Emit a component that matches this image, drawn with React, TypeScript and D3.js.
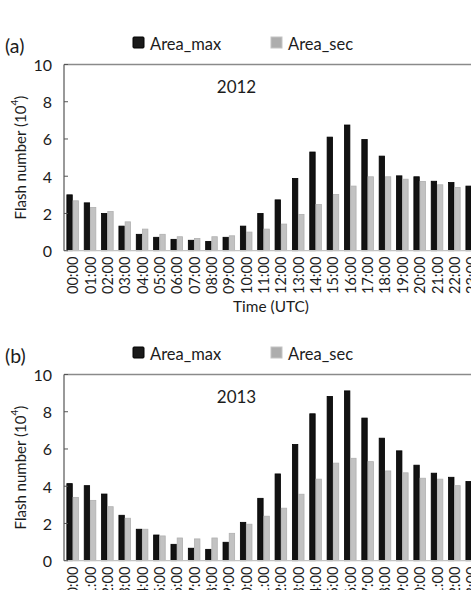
import React from "react";
import * as d3 from "d3";

const hours = [
  "00:00", "01:00", "02:00", "03:00", "04:00", "05:00", "06:00", "07:00",
  "08:00", "09:00", "10:00", "11:00", "12:00", "13:00", "14:00", "15:00",
  "16:00", "17:00", "18:00", "19:00", "20:00", "21:00", "22:00", "23:00",
];

// Hourly flash counts (10^4), 2012
const max2012 = [3.0, 2.57, 2.0, 1.32, 0.88, 0.72, 0.61, 0.56, 0.5, 0.72, 1.32, 2.0, 2.73, 3.88, 5.3, 6.1, 6.75, 5.97, 5.08, 4.02, 3.97, 3.73, 3.66, 3.47];
const sec2012 = [2.68, 2.32, 2.1, 1.55, 1.16, 0.88, 0.75, 0.66, 0.75, 0.8, 1.0, 1.16, 1.43, 1.95, 2.48, 3.02, 3.47, 3.97, 3.97, 3.84, 3.72, 3.54, 3.4, 3.3];

// Hourly flash counts (10^4), 2013
const max2013 = [4.14, 4.03, 3.58, 2.44, 1.69, 1.38, 0.88, 0.67, 0.61, 0.99, 2.06, 3.35, 4.66, 6.24, 7.89, 8.82, 9.12, 7.66, 6.58, 5.9, 5.13, 4.7, 4.48, 4.25];
const sec2013 = [3.4, 3.24, 2.9, 2.28, 1.69, 1.33, 1.22, 1.17, 1.22, 1.47, 1.96, 2.39, 2.82, 3.57, 4.38, 5.24, 5.5, 5.32, 4.82, 4.72, 4.43, 4.38, 4.03, 3.98];

const yTicks = [0, 2, 4, 6, 8, 10];
const seriesNames = ["Area_max", "Area_sec"];

const FONT = "Lato, 'Open Sans', sans-serif";
const W = 471;
const H = 590;
const LEFT = 64;
const STEP = 17.35;
const PI = 0.285;

const x = d3
  .scaleBand<string>()
  .domain(hours)
  .range([LEFT, LEFT + STEP * hours.length])
  .paddingInner(PI)
  .paddingOuter(PI / 2);

const xs = d3.scaleBand<string>().domain(seriesNames).range([0, x.bandwidth()]);

const fills: Record<string, string> = { Area_max: "#121212", Area_sec: "#c2c2c2" };
const strokes: Record<string, string> = { Area_max: "#000000", Area_sec: "#b0b0b0" };

function Panel({ top, tag, year, maxVals, secVals }: {
  top: number; tag: string; year: string; maxVals: number[]; secVals: number[];
}) {
  const plotTop = top + 64.5;
  const plotBottom = top + 250.7;
  const y = d3.scaleLinear().domain([0, 10]).range([plotBottom, plotTop]);
  const series = [
    { name: "Area_max", values: maxVals },
    { name: "Area_sec", values: secVals },
  ];
  const right = LEFT + STEP * hours.length;
  return (
    <g fontFamily={FONT} fill="#1c1c1c">
      <text x={5} y={top + 45.5} fontSize={19.5} dominantBaseline="central">{tag}</text>

      {/* legend */}
      <rect x={133} y={top + 37} width={11} height={11} fill="#1a1a1a" stroke="#000" strokeWidth={1} rx={1} />
      <text x={150} y={top + 43.5} fontSize={16.5} dominantBaseline="central">Area_max</text>
      <rect x={271} y={top + 37} width={11} height={11} fill="#adadad" stroke="#c4c4c4" strokeWidth={1} />
      <text x={288} y={top + 43.5} fontSize={16.5} dominantBaseline="central">Area_sec</text>

      {/* bars */}
      {series.map((s) =>
        s.values.map((v, i) => (
          <rect
            key={s.name + i}
            x={(x(hours[i]) as number) + (xs(s.name) as number) + 0.4}
            y={y(v)}
            width={xs.bandwidth() - 0.8}
            height={plotBottom - y(v)}
            fill={fills[s.name]}
            stroke={strokes[s.name]}
            strokeWidth={0.8}
          />
        ))
      )}

      {/* frame and axes */}
      <line x1={LEFT} x2={right} y1={plotTop} y2={plotTop} stroke="#8a8a8a" strokeWidth={1.6} />
      <line x1={LEFT} x2={right} y1={plotBottom} y2={plotBottom} stroke="#c4c4c4" strokeWidth={1.2} />
      <line x1={LEFT} x2={LEFT} y1={plotTop} y2={plotBottom} stroke="#555" strokeWidth={1.2} />
      {yTicks.map((t) => (
        <g key={t}>
          <line x1={LEFT} x2={LEFT + 4} y1={y(t)} y2={y(t)} stroke="#555" strokeWidth={1} />
          <text x={52} y={y(t)} fontSize={16} textAnchor="end" dominantBaseline="central">{t}</text>
        </g>
      ))}

      {/* hour labels */}
      {hours.map((h) => {
        const cx = (x(h) as number) + x.bandwidth() / 2;
        const ty = plotBottom + 6;
        return (
          <text
            key={h}
            transform={`translate(${cx},${ty}) rotate(-90)`}
            fontSize={14.5}
            textAnchor="end"
            dominantBaseline="central"
          >
            {h}
          </text>
        );
      })}
      <text x={271} y={top + 306} fontSize={15.4} textAnchor="middle" dominantBaseline="central">Time (UTC)</text>

      <text x={236.5} y={top + 86} fontSize={17} textAnchor="middle" dominantBaseline="central">{year}</text>

      <text
        transform={`translate(20,${(plotTop + plotBottom) / 2}) rotate(-90)`}
        fontSize={15}
        textAnchor="middle"
        dominantBaseline="central"
      >
        Flash number (10
        <tspan fontSize={10} dy={-6}>4</tspan>
        <tspan dy={6}>)</tspan>
      </text>
    </g>
  );
}

export default function App() {
  return (
    <svg
      width={W}
      height={H}
      viewBox={`0 0 ${W} ${H}`}
      style={{ position: "absolute", left: 0, top: 0, background: "#fff" }}
    >
      <rect width={W} height={H} fill="#fff" />
      <Panel top={0} tag="(a)" year="2012" maxVals={max2012} secVals={sec2012} />
      <Panel top={310} tag="(b)" year="2013" maxVals={max2013} secVals={sec2013} />
    </svg>
  );
}
